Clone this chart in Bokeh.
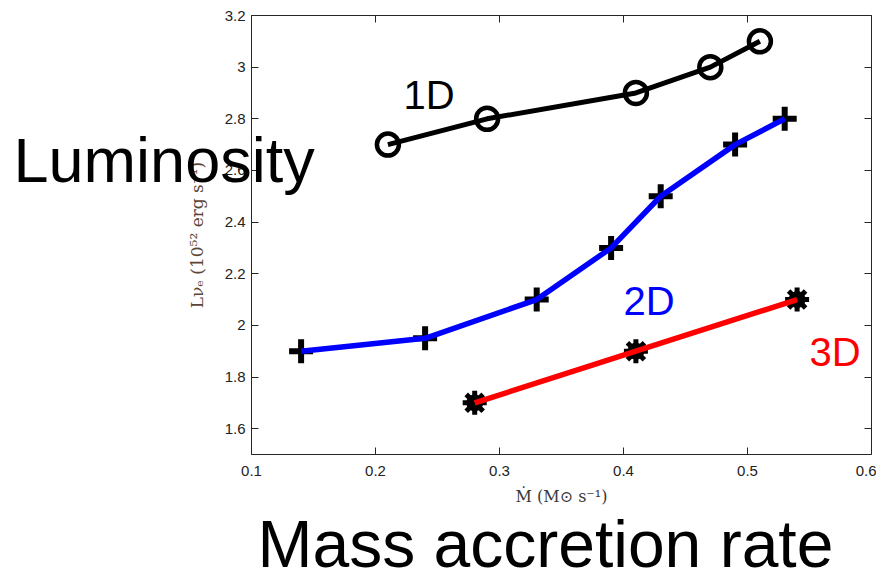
from bokeh.plotting import figure
from bokeh.models import Label, LinearAxis, FixedTicker, CustomJSTickFormatter, Range1d
from bokeh.embed import file_html
from bokeh.resources import INLINE

# ---- data ----
x_1d = [0.21, 0.29, 0.41, 0.47, 0.51]
y_1d = [2.7, 2.8, 2.9, 3.0, 3.1]

x_2d = [0.14, 0.24, 0.33, 0.39, 0.43, 0.49, 0.53]
y_2d = [1.9, 1.95, 2.1, 2.3, 2.5, 2.7, 2.8]

x_3d = [0.28, 0.41, 0.54]
y_3d = [1.7, 1.9, 2.1]

x_ticks = [0.1, 0.2, 0.3, 0.4, 0.5, 0.6]
y_ticks = [1.6, 1.8, 2.0, 2.2, 2.4, 2.6, 2.8, 3.0, 3.2]

series_names = ["1D", "2D", "3D"]

# axes box (data limits of the drawn axes)
X0, X1 = 0.1, 0.6
Y0, Y1 = 1.5, 3.2

FRAME = "#262626"
TICKFONT = "Liberation Sans"

# The plotting frame covers the whole canvas so that the large overlay
# texts are not clipped; the axes are drawn at fixed data locations.
p = figure(width=876, height=572,
           x_range=Range1d(-0.10242, 0.60403), y_range=Range1d(1.04305, 3.2581),
           output_backend="svg", toolbar_location=None,
           x_axis_location=None, y_axis_location=None)
p.min_border_left = 0
p.min_border_right = 0
p.min_border_top = 0
p.min_border_bottom = 0
p.title.visible = False
p.grid.visible = False
p.outline_line_color = None
p.background_fill_color = "white"
p.border_fill_color = "white"

fmt = CustomJSTickFormatter(code="return tick.toFixed(1).replace(/\\.0$/, '');")


def make_axis(ticks, bounds, loc, labels=True):
    ax = LinearAxis(ticker=FixedTicker(ticks=ticks), bounds=bounds, fixed_location=loc,
                    major_tick_in=7, major_tick_out=0, minor_tick_line_color=None,
                    axis_line_color=FRAME, axis_line_width=1,
                    major_tick_line_color=FRAME, formatter=fmt)
    if labels:
        ax.major_label_text_font = TICKFONT
        ax.major_label_text_font_size = "15px"
        ax.major_label_text_color = "#222222"
        ax.axis_label_text_font = "DejaVu Serif"
        ax.axis_label_text_font_style = "normal"
    else:
        ax.major_label_text_font_size = "0px"
        ax.major_label_standoff = 0
    return ax


bottom = make_axis(x_ticks, (X0, X1), Y0)
bottom.major_label_standoff = 11
bottom.axis_label = "Ṁ (M⊙ s⁻¹)"
bottom.axis_label_standoff = 8
bottom.axis_label_text_font_size = "16px"
bottom.axis_label_text_color = "#3a3a3a"

left = make_axis(y_ticks, (Y0, Y1), X0)
left.major_label_standoff = 6
left.axis_label = "Lνₑ (10⁵² erg s⁻¹)"
left.axis_label_standoff = 15
left.axis_label_text_font_size = "17px"
left.axis_label_text_color = "#5c4535"

top = make_axis(x_ticks, (X0, X1), Y1, labels=False)
right = make_axis(y_ticks, (Y0, Y1), X1, labels=False)

p.add_layout(bottom, "below")
p.add_layout(left, "left")
p.add_layout(top, "above")
p.add_layout(right, "right")

# ---- markers (under the lines) ----
p.scatter(x_1d, y_1d, marker="circle", size=22, fill_color=None,
          line_color="black", line_width=4.5)
p.scatter(x_2d, y_2d, marker="cross", size=24, line_color="black", line_width=6)
p.scatter(x_3d, y_3d, marker="circle", size=16, fill_color="black", line_color="black")
p.scatter(x_3d, y_3d, marker="asterisk", size=24, line_color="black", line_width=5)

# ---- lines ----
p.line(x_1d, y_1d, line_color="black", line_width=5)
p.line(x_2d, y_2d, line_color="#0000ff", line_width=5.5)
p.line(x_3d, y_3d, line_color="#ff0000", line_width=5.5)

# ---- in-plot series labels ----
p.add_layout(Label(x=0.2226, y=2.894, text=series_names[0], text_color="black",
                   text_font=TICKFONT, text_font_size="40px", text_baseline="alphabetic"))
p.add_layout(Label(x=0.40, y=2.096, text=series_names[1], text_color="#0000ff",
                   text_font=TICKFONT, text_font_size="40px", text_baseline="alphabetic"))
p.add_layout(Label(x=0.55, y=1.895, text=series_names[2], text_color="#ff0000",
                   text_font=TICKFONT, text_font_size="40px", text_baseline="alphabetic"))

# ---- big overlay annotations ----
p.add_layout(Label(x=-0.0919, y=2.642, text="Luminosity", text_color="black",
                   text_font=TICKFONT, text_font_size="63px", text_baseline="alphabetic"))
p.add_layout(Label(x=0.10484, y=1.1515, text="Mass accretion rate", text_color="black",
                   text_font=TICKFONT, text_font_size="66px", text_baseline="alphabetic"))

open("out.html", "w").write(file_html(p, INLINE))
